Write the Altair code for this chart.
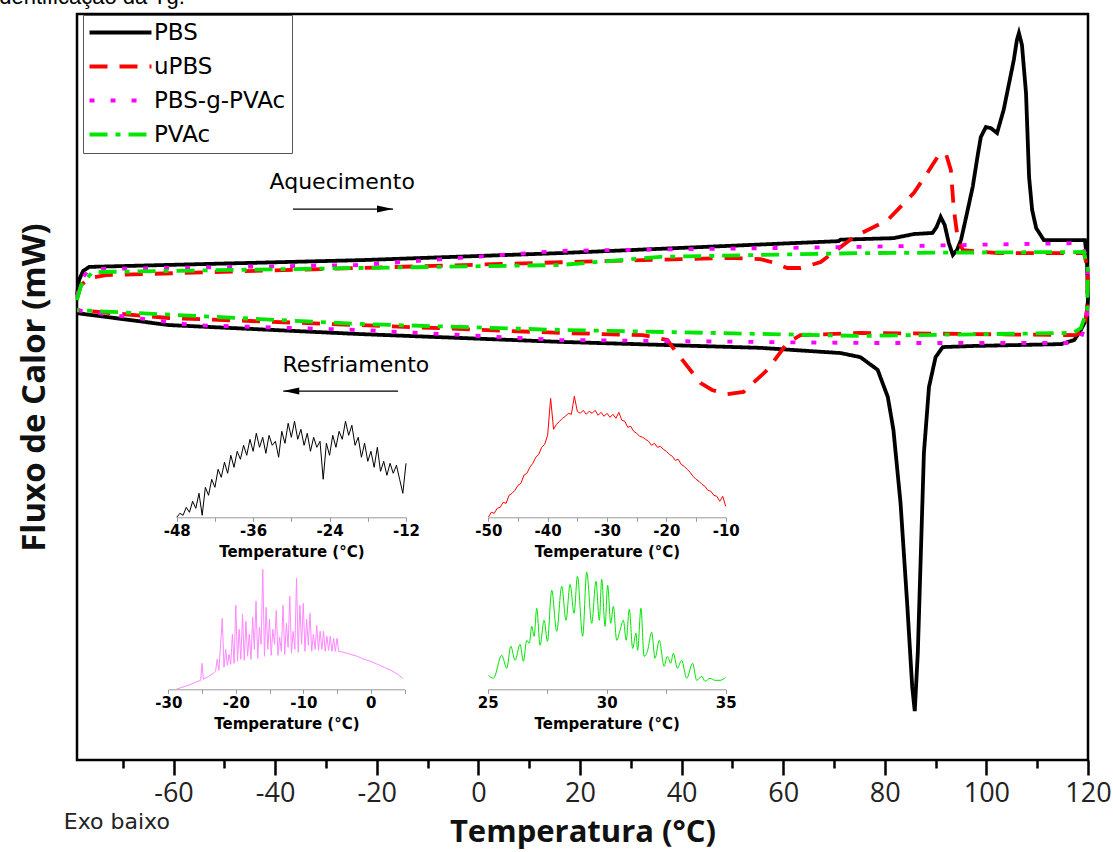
import altair as alt
import pandas as pd

# ---------------- main DSC curves (T in °C, heat flow in arbitrary mW units) -------------
PBS_T = [-79.0, -78.6, -77.8, -76.6, -23.4, 16.1, 70.9, 71.3, 81.7, 85.7,
         89.4, 90.2, 91.0, 91.8, 92.6, 93.4, 94.2, 95.0, 96.1, 97.3,
         98.3, 98.9, 99.9, 100.9, 102.1, 103.4, 104.4, 105.4, 106.0, 106.4,
         107.0, 107.8, 108.4, 109.0, 109.8, 111.3, 119.4, 119.8, 120.0, 119.6,
         118.6, 117.3, 114.7, 97.5, 91.4, 90.0, 88.7, 87.7, 87.1, 86.5,
         85.9, 85.4, 84.4, 83.1, 81.7, 80.6, 78.6, 75.2, 71.3, 55.5,
         16.1, -23.4, -60.9, -79.0]
PBS_V = [2.47, 2.87, 3.11, 3.22, 3.40, 3.59, 3.91, 3.95, 3.99, 4.10,
         4.13, 4.29, 4.56, 4.34, 3.86, 3.54, 3.67, 3.94, 4.61, 5.36,
         6.22, 6.70, 6.97, 6.94, 6.81, 7.43, 8.10, 8.77, 9.30, 9.49,
         9.17, 7.88, 5.63, 4.75, 4.26, 3.94, 3.94, 3.40, 2.33, 1.80,
         1.53, 1.26, 1.15, 1.10, 1.07, 0.80, 0.00, -1.77, -4.45, -7.13,
         -8.69, -8.04, -5.79, -3.11, -1.15, -0.27, 0.46, 0.80, 0.91, 1.05,
         1.21, 1.42, 1.66, 1.98]

UPBS_T = [-79.0, -78.2, -76.6, -73.3, -23.4, 18.0, 49.0, 55.5, 58.5, 60.8,
          63.4, 67.4, 73.9, 80.6, 85.7, 88.0, 90.4, 92.0, 93.0, 93.6, 94.4,
          95.4, 102.3, 119.2, 120.0, 119.8, 119.2, 117.6, 75.2, 63.4, 60.8,
          56.9, 52.2, 49.0, 46.0, 43.7, 39.1, 37.2, 32.4, 16.1, -23.4,
          -60.9, -79.0]
UPBS_V = [2.39, 2.73, 2.92, 3.00, 3.19, 3.35, 3.46, 3.43, 3.32, 3.19,
          3.19, 3.35, 4.02, 4.48, 5.20, 5.66, 6.17, 6.27, 5.82, 4.75, 3.94,
          3.67, 3.59, 3.59, 3.14, 2.06, 1.53, 1.39, 1.45, 1.39, 1.18,
          0.46, -0.13, -0.19, -0.08, 0.11, 0.91, 1.26, 1.39, 1.45, 1.66,
          1.85, 2.06]

GRAFT_T = [-79.0, -78.2, -76.6, -23.4, 16.1, 71.9, 118.6, 120.0, 119.8, 118.6,
           117.3, 75.2, 16.1, -23.4, -56.3, -76.6, -79.0]
GRAFT_V = [2.44, 2.87, 3.16, 3.27, 3.65, 3.75, 3.86, 3.40, 1.80, 1.31,
           1.18, 1.18, 1.26, 1.53, 1.66, 2.01, 2.06]

PVAC_T = [-79.0, -78.2, -76.0, -23.4, 16.1, 35.8, 75.2, 119.2, 120.0, 119.8,
          118.6, 117.1, 75.2, 16.1, -23.4, -79.0]
PVAC_V = [2.33, 2.73, 3.08, 3.19, 3.27, 3.49, 3.59, 3.62, 3.14, 2.06,
          1.58, 1.45, 1.37, 1.53, 1.69, 2.06]

SERIES = ["PBS", "uPBS", "PBS-g-PVAc", "PVAc"]
COLORS = ["#000000", "#ff0000", "#ff00ff", "#00e600"]
DASHES = [[1, 0], [18, 12], [5, 16], [18, 8, 5, 8]]

X_TICKS = [-70, -60, -50, -40, -30, -20, -10, 0, 10, 20, 30, 40, 50, 60, 70, 80, 90, 100, 110, 120]

# annotations
ANN_TEXT = ["Aquecimento", "Resfriamento"]
ANN_T = [-26.8, -24.1]
ANN_V = [5.50, 0.59]
ARROW_T1 = [-36.5, -15.8]
ARROW_T2 = [-16.8, -38.4]
ARROW_V = [4.77, -0.11]
ARROW_DIR = ["right", "left"]
EXO_TEXT = ["Exo baixo"]
EXO_T = [-81.6]
EXO_V = [-11.66]
TOP_TEXT = ["Identificação da Tg."]
TOP_T = [-95.5]
TOP_V = [10.27]

# ---------------- insets -------------
X1 = [-48.0, -47.5, -47.0, -46.5, -46.0, -45.5, -45.0, -44.5, -44.0, -43.5,
      -43.0, -42.5, -42.0, -41.5, -41.0, -40.5, -40.0, -39.5, -39.0, -38.5,
      -38.0, -37.5, -37.0, -36.5, -36.0, -35.5, -35.0, -34.5, -34.0, -33.5,
      -33.0, -32.5, -32.0, -31.5, -31.0, -30.5, -30.0, -29.5, -29.0, -28.5,
      -28.0, -27.5, -27.0, -26.5, -26.0, -25.5, -25.0, -24.5, -24.0, -23.5,
      -23.0, -22.5, -22.0, -21.5, -21.0, -20.5, -20.0, -19.5, -19.0, -18.5,
      -18.0, -17.5, -17.0, -16.5, -16.0, -15.5, -15.0, -14.5, -14.0, -13.5,
      -13.0, -12.5, -12.0]
Y1 = [0, 4, 2, 10, 5, 16, 9, 24, 2, 30,
      22, 38, 30, 48, 40, 55, 44, 62, 50, 66,
      58, 72, 62, 78, 66, 84, 70, 80, 64, 82,
      72, 76, 60, 86, 74, 94, 80, 96, 78, 88,
      72, 84, 66, 80, 70, 76, 38, 74, 62, 82,
      70, 86, 78, 96, 82, 92, 72, 80, 60, 74,
      56, 66, 50, 70, 46, 56, 42, 54, 44, 52,
      38, 24, 54]

X2 = [-50.0, -49.5, -49.0, -48.5, -48.0, -47.5, -47.0, -46.5, -46.0, -45.5,
      -45.0, -44.5, -44.0, -43.5, -43.0, -42.5, -42.0, -41.5, -41.0, -40.5,
      -40.0, -39.5, -39.0, -38.5, -38.0, -37.5, -37.0, -36.5, -36.0, -35.5,
      -35.0, -34.5, -34.0, -33.5, -33.0, -32.5, -32.0, -31.5, -31.0, -30.5,
      -30.0, -29.5, -29.0, -28.5, -28.0, -27.5, -27.0, -26.5, -26.0, -25.5,
      -25.0, -24.5, -24.0, -23.5, -23.0, -22.5, -22.0, -21.5, -21.0, -20.5,
      -20.0, -19.5, -19.0, -18.5, -18.0, -17.5, -17.0, -16.5, -16.0, -15.5,
      -15.0, -14.5, -14.0, -13.5, -13.0, -12.5, -12.0, -11.5, -11.0, -10.5,
      -10.0]
Y2 = [0, 5, 4, 9, 10, 15, 14, 22, 24, 27,
      32, 34, 42, 44, 50, 54, 60, 63, 70, 73,
      82, 119, 88, 93, 96, 99, 101, 104, 103, 121,
      106, 104, 107, 103, 106, 104, 107, 102, 105, 101,
      104, 100, 103, 99, 105, 97, 96, 90, 91, 86,
      84, 81, 80, 78, 76, 72, 74, 70, 71, 68,
      66, 63, 61, 57, 58, 53, 51, 48, 45, 41,
      38, 36, 33, 31, 27, 26, 22, 21, 16, 21,
      11]

X3 = [-28.8, -28, -27, -26, -25.2, -25, -24.8, -24, -23.5, -23,
      -22.75, -22.5, -22.25, -22, -21.75, -21.5, -21.25, -21, -20.75, -20.5,
      -20.25, -20, -19.75, -19.5, -19.25, -19, -18.75, -18.5, -18.25, -18,
      -17.75, -17.5, -17.25, -17, -16.75, -16.5, -16.25, -16, -15.75, -15.5,
      -15.25, -15, -14.75, -14.5, -14.25, -14, -13.75, -13.5, -13.25, -13,
      -12.75, -12.5, -12.25, -12, -11.75, -11.5, -11.25, -11, -10.75, -10.5,
      -10.25, -10, -9.75, -9.5, -9.25, -9, -8.75, -8.5, -8.25, -8,
      -7.75, -7.5, -7.25, -7, -6.75, -6.5, -6.25, -6, -5.75, -5.5,
      -5.25, -5, -4.75, -4, -3, -2, -1, 0, 1, 2,
      3, 4, 4.7]
Y3 = [0, 2, 4, 7, 9, 26, 10, 13, 15, 18,
      30, 19, 45, 71, 22, 40, 24, 35, 25, 55,
      26, 84, 28, 60, 30, 75, 29, 68, 33, 55,
      30, 72, 40, 88, 31, 62, 45, 120, 33, 82,
      40, 70, 34, 60, 45, 79, 34, 52, 38, 84,
      35, 66, 42, 93, 36, 58, 40, 111, 37, 84,
      45, 86, 38, 70, 44, 76, 38, 55, 40, 64,
      39, 58, 40, 58, 38, 53, 39, 53, 38, 51,
      38, 51, 38, 37, 35, 33, 30, 28, 25, 22,
      19, 15, 11]

X4 = [25.03, 25.24, 25.59, 25.80, 25.97, 26.15, 26.36, 26.50, 26.64, 26.75,
      26.85, 26.95, 27.06, 27.20, 27.37, 27.51, 27.69, 27.90, 28.11, 28.29,
      28.46, 28.63, 28.77, 28.99, 29.16, 29.37, 29.55, 29.69, 29.79, 29.93,
      30.04, 30.17, 30.28, 30.42, 30.56, 30.70, 30.82, 30.95, 31.09, 31.23,
      31.30, 31.44, 31.57, 31.71, 31.89, 32.03, 32.21, 32.41, 32.55, 32.69,
      32.80, 32.97, 33.15, 33.36, 33.61, 33.78, 34.00, 34.13, 34.34, 34.55,
      34.76, 35.00]
Y4 = [14, 11, 34, 21, 43, 29, 45, 28, 49, 46,
      63, 53, 81, 44, 69, 48, 99, 58, 103, 69,
      105, 76, 113, 53, 117, 66, 108, 69, 110, 63,
      104, 66, 83, 49, 59, 69, 49, 80, 41, 56,
      39, 81, 33, 38, 57, 31, 49, 23, 33, 26,
      36, 21, 29, 11, 26, 9, 13, 8, 11, 9,
      9, 12]

INSET_TICKS_1 = [-48, -42, -36, -30, -24, -18, -12]
INSET_TICKS_2 = [-50, -45, -40, -35, -30, -25, -20, -15, -10]
INSET_TICKS_3 = [-30, -25, -20, -15, -10, -5, 0, 5]
INSET_TICKS_4 = [25, 27.5, 30, 32.5, 35]

# ---------------- build tables -------------
rows = []
for name, ts, vs in zip(SERIES, [PBS_T, UPBS_T, GRAFT_T, PVAC_T], [PBS_V, UPBS_V, GRAFT_V, PVAC_V]):
    for i, (t, v) in enumerate(zip(ts, vs)):
        rows.append({"series": name, "T": t, "v": v, "i": i})
main_df = pd.DataFrame(rows)

ann_df = pd.DataFrame({"txt": ANN_TEXT, "T": ANN_T, "v": ANN_V})
arrow_df = pd.DataFrame({"T": ARROW_T1, "T2": ARROW_T2, "v": ARROW_V, "dir": ARROW_DIR})
exo_df = pd.DataFrame({"txt": EXO_TEXT, "T": EXO_T, "v": EXO_V})
top_df = pd.DataFrame({"txt": TOP_TEXT, "T": TOP_T, "v": TOP_V})

x_scale = alt.Scale(domain=[-79, 120], nice=False, zero=False)
y_scale = alt.Scale(domain=[-10, 10], nice=False, zero=False)

x_axis = alt.Axis(
    values=X_TICKS,
    labelExpr="datum.value % 20 === 0 ? '' + datum.value : ''",
    tickSize={"condition": {"test": "datum.value % 20 === 0", "value": 15}, "value": 8},
    tickWidth=2.5, tickColor="black", domain=False, grid=False,
    labelFont="Open Sans", labelFontSize=27, labelColor="#222222",
    labelPadding=5, labelFlush=False, labelOverlap=False,
    title="Temperatura (°C)", titleFont="Open Sans", titleFontSize=31,
    titleFontWeight="bold", titleColor="#111111", titlePadding=11,
)
y_axis = alt.Axis(
    labels=False, ticks=False, domain=False, grid=False,
    title="Fluxo de Calor (mW)", titleFont="Open Sans", titleFontSize=33,
    titleFontWeight="bold", titleColor="#111111", titlePadding=26,
)

legend = alt.Legend(
    title=None, orient="none", legendX=6, legendY=1,
    symbolType="M-4,0H4", symbolSize=240, symbolStrokeWidth=4,
    symbolOffset=20, labelOffset=22,
    labelFont="DejaVu Sans", labelFontSize=23, labelColor="black",
    rowPadding=10, padding=6, strokeColor="#555555", fillColor="white",
    labelLimit=400,
)

curves = alt.Chart(main_df).mark_line(strokeWidth=3.8).encode(
    x=alt.X("T:Q", scale=x_scale, axis=x_axis),
    y=alt.Y("v:Q", scale=y_scale, axis=y_axis),
    color=alt.Color("series:N", scale=alt.Scale(domain=SERIES, range=COLORS), legend=legend),
    strokeDash=alt.StrokeDash("series:N", scale=alt.Scale(domain=SERIES, range=DASHES), legend=legend),
    order="i:Q",
)

ann = alt.Chart(ann_df).mark_text(font="DejaVu Sans", fontSize=22, color="black",
                                  align="center", baseline="middle").encode(
    x="T:Q", y="v:Q", text="txt:N")
rules = alt.Chart(arrow_df).mark_rule(color="black", strokeWidth=1.2).encode(
    x="T:Q", x2="T2:Q", y="v:Q")
head_r = alt.Chart(arrow_df).transform_filter(alt.datum.dir == "right").mark_point(
    shape="M1,0L-1,-0.44L-1,0.44Z", filled=True, color="black", opacity=1, size=256, xOffset=-8
).encode(x="T2:Q", y="v:Q")
head_l = alt.Chart(arrow_df).transform_filter(alt.datum.dir == "left").mark_point(
    shape="M-1,0L1,-0.44L1,0.44Z", filled=True, color="black", opacity=1, size=256, xOffset=8
).encode(x="T2:Q", y="v:Q")
exo = alt.Chart(exo_df).mark_text(font="DejaVu Sans", fontSize=22, color="#222222",
                                  align="left", baseline="middle").encode(
    x="T:Q", y="v:Q", text="txt:N")
top = alt.Chart(top_df).mark_text(font="Liberation Sans", fontSize=22, color="black",
                                  align="left", baseline="alphabetic").encode(
    x="T:Q", y="v:Q", text="txt:N")

main = alt.layer(curves, rules, head_r, head_l, ann, exo, top)


def inset(xs, ys, color, xdom, xrange, yrange, ticks, step, offset, interp, fx, fy):
    df = pd.DataFrame({fx: xs, fy: ys})
    ax = alt.Axis(
        orient="bottom", offset=offset, values=ticks,
        labelExpr=f"datum.value % {step} === 0 ? '' + datum.value : ''",
        grid=False, domainColor="#999999", domainWidth=1,
        tickColor="#999999", tickSize=4, tickWidth=1,
        labelFont="DejaVu Sans", labelFontWeight="bold", labelFontSize=15,
        labelColor="black", labelPadding=2, labelFlush=False, labelOverlap=False,
        title="Temperature (°C)", titleFont="DejaVu Sans", titleFontWeight="bold",
        titleFontSize=15, titleColor="black", titlePadding=6,
    )
    return alt.Chart(df).mark_line(color=color, strokeWidth=1, interpolate=interp).encode(
        x=alt.X(f"{fx}:Q", scale=alt.Scale(domain=xdom, range=xrange, nice=False, zero=False), axis=ax),
        y=alt.Y(f"{fy}:Q", scale=alt.Scale(domain=[0, 100], range=yrange, nice=False, zero=False), axis=None),
    )


ins1 = inset(X1, Y1, "#000000", [-48, -12], [99.7, 329.0], [503.3, 403.3], INSET_TICKS_1, 12, -242.7, "linear", "t1", "h1")
ins2 = inset(X2, Y2, "#ff0000", [-50, -10], [411.3, 648.7], [503.3, 403.3], INSET_TICKS_2, 10, -242.7, "linear", "t2", "h2")
ins3 = inset(X3, Y3, "#ff88ff", [-30, 5], [91.3, 327.5], [675.3, 575.3], INSET_TICKS_3, 10, -70.7, "linear", "t3", "h3")
ins4 = inset(X4, Y4, "#00e600", [25, 35], [410.7, 648.7], [675.3, 575.3], INSET_TICKS_4, 5, -70.7, "monotone", "t4", "h4")

chart = alt.layer(main, ins1, ins2, ins3, ins4).resolve_scale(
    x="independent", y="independent"
).properties(
    width=1011, height=746,
    autosize=alt.AutoSizeParams(type="none"),
    padding={"left": 77, "top": 14, "right": 25, "bottom": 92},
    background="white",
).configure_view(stroke="black", strokeWidth=2.5)

chart.save("out.html", embed_options={"renderer": "svg", "actions": False})
